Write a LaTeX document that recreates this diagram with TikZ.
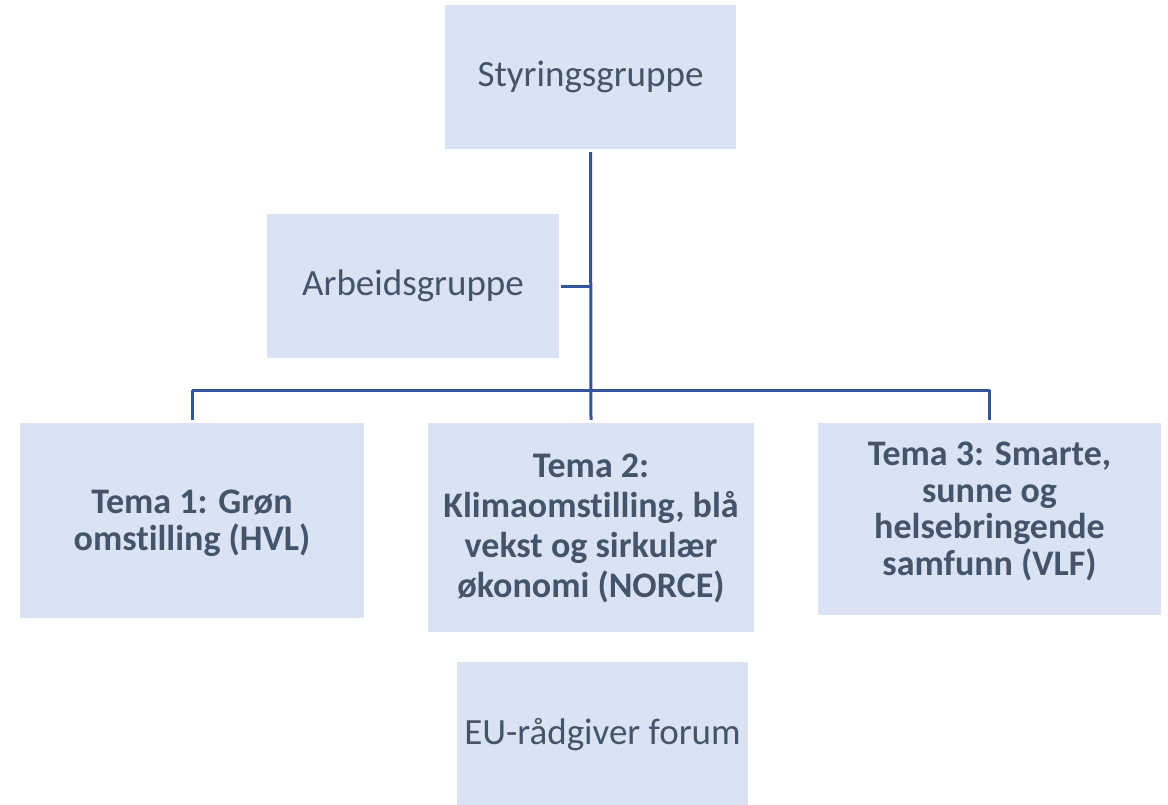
\documentclass[tikz,border=0pt]{standalone}
\usepackage{fontspec}
\setmainfont{Carlito}[Ligatures=NoCommon]
\usepackage{tikz}
\usetikzlibrary{positioning}
\definecolor{orgfill}{RGB}{218,227,243}
\definecolor{orgtext}{RGB}{68,84,106}
\definecolor{orgline}{RGB}{50,84,156}
\tikzstyle{conn} = [line width=3pt, color=orgline]
\tikzstyle{unit} = [rectangle, fill=orgfill, inner sep=0pt, text=orgtext,
    align=center, font=\fontsize{37}{44}\selectfont]
\tikzstyle{tema} = [unit, text depth=8pt, font=\fontsize{36}{36.5}\selectfont\bfseries]

\begin{document}
\begin{tikzpicture}[x=1pt, y=-1pt]
\useasboundingbox (0,0) rectangle (1168,804);
\node[unit, minimum width=291pt, minimum height=144pt] (styr) at (590.5,77) {Styringsgruppe};
\node[unit, minimum width=292pt, minimum height=144pt] (arb) at (413,286) {Arbeidsgruppe};
\node[tema, text height=67pt, minimum width=344pt, minimum height=195pt] (tema1) at (192,520.5) {Tema 1: Grøn\\omstilling (HVL)};
\node[tema, text height=147pt, font=\fontsize{36}{40}\selectfont\bfseries,
    minimum width=326pt, minimum height=209pt] (tema2) at (591,527.5) {Tema 2:\\Klimaomstilling, blå\\vekst og sirkulær\\økonomi (NORCE)};
\node[tema, text height=120pt, minimum width=343pt, minimum height=192pt] (tema3) at (989.5,519) {Tema 3: Smarte,\\sunne og\\helsebringende\\samfunn (VLF)};
\node[unit, minimum width=291pt, minimum height=146pt] (eu) at (602.5,735) {EU-rådgiver forum};
\coordinate (bus) at (591,390);
\draw[conn] ([yshift=-3pt]styr.south) -- ([yshift=3pt]tema2.north);
\draw[conn] ([xshift=2pt]arb.east) -- (arb.east -| styr.south);
\draw[conn] (tema1.north |- bus) -- (tema3.north |- bus);
\draw[conn] (tema1.north |- bus) -- ([yshift=3pt]tema1.north);
\draw[conn] (tema3.north |- bus) -- ([yshift=3pt]tema3.north);
\end{tikzpicture}
\end{document}
